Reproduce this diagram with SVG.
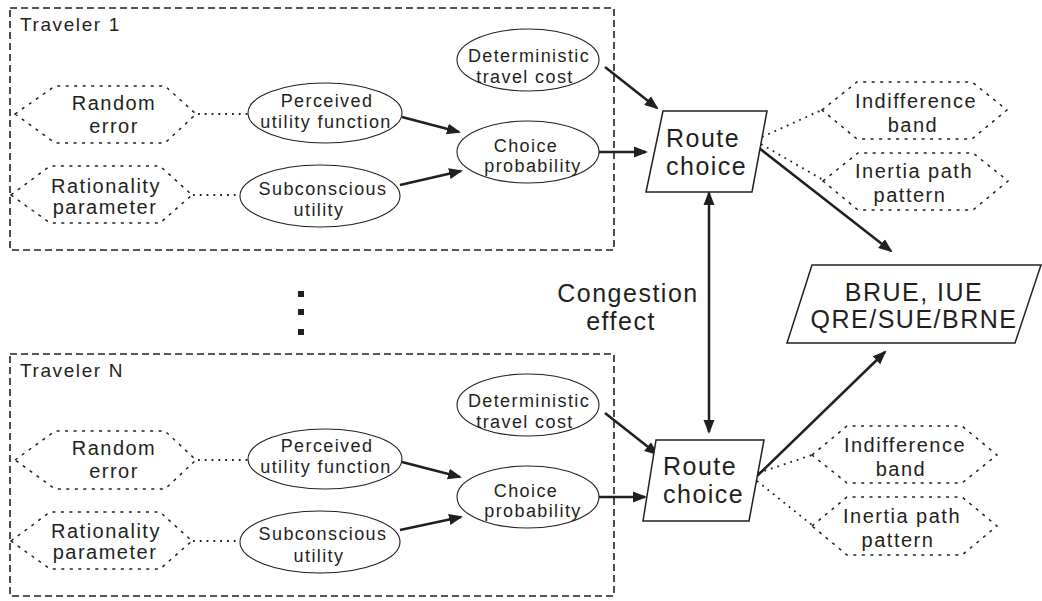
<svg xmlns="http://www.w3.org/2000/svg" width="1042" height="601" viewBox="0 0 1042 601">
<style>
text{font-family:"Liberation Sans",Arial,Helvetica,sans-serif;fill:#231f20;}
.t18{font-size:18px;letter-spacing:1.4px;text-anchor:middle;}
.t20{font-size:20px;letter-spacing:1.5px;text-anchor:middle;}
.t25{font-size:25px;letter-spacing:1.5px;}
.title{font-size:19px;letter-spacing:1.6px;}
.box{fill:none;stroke:#231f20;stroke-width:1.6;stroke-dasharray:7,4;}
.ell{fill:#fff;stroke:#231f20;stroke-width:1.1;}
.hex{fill:none;stroke:#231f20;stroke-width:1.5;stroke-dasharray:3,5.5;}
.para{fill:#fff;stroke:#231f20;stroke-width:1.5;}
.arr{fill:none;stroke:#231f20;stroke-width:2.5;marker-end:url(#ah);}
.dot{fill:none;stroke:#231f20;stroke-width:1.8;stroke-dasharray:1.8,5;}
</style>
<defs>
<marker id="ah" markerUnits="userSpaceOnUse" markerWidth="14" markerHeight="12" viewBox="0 0 14 12" refX="12" refY="6" orient="auto-start-reverse">
<path d="M0,0.5 L14,6 L0,11.5 z" fill="#231f20"/>
</marker>
</defs>
<rect width="1042" height="601" fill="#fff"/>

<g id="traveler1">
<rect class="box" x="10" y="8" width="604" height="242"/>
<text class="title" x="20" y="31">Traveler 1</text>
</g>
<g id="travelerN">
<rect class="box" x="10" y="354" width="604" height="242"/>
<text class="title" x="20" y="377">Traveler N</text>
</g>

<g id="connectors">
<line class="dot" x1="198" y1="114" x2="248" y2="114"/>
<line class="dot" x1="193" y1="195" x2="240" y2="195"/>
<line class="dot" x1="762" y1="137" x2="822" y2="110"/>
<line class="dot" x1="761" y1="144" x2="823" y2="180"/>
<line class="dot" x1="198" y1="460" x2="248" y2="460"/>
<line class="dot" x1="193" y1="541" x2="240" y2="541"/>
<line class="dot" x1="758" y1="473" x2="812" y2="455"/>
<line class="dot" x1="757" y1="481" x2="812" y2="525"/>
<line class="arr" x1="402" y1="117" x2="459" y2="132"/>
<line class="arr" x1="400" y1="185" x2="461" y2="171"/>
<line class="arr" x1="605" y1="67" x2="657" y2="108"/>
<line class="arr" x1="599" y1="152" x2="646" y2="152"/>
<line class="arr" x1="759" y1="148" x2="891" y2="251"/>
<line class="arr" x1="402" y1="462" x2="460" y2="477"/>
<line class="arr" x1="400" y1="530" x2="461" y2="517"/>
<line class="arr" x1="605" y1="413" x2="657" y2="454"/>
<line class="arr" x1="599" y1="497" x2="645" y2="497"/>
<line class="arr" x1="757" y1="476" x2="885" y2="352"/>
<line class="arr" x1="709" y1="193" x2="709" y2="432" style="marker-start:url(#ah)"/>
</g>

<g id="random1">
<polygon class="hex" points="15,114 55,86 165,86 196,114 165,143 55,143"/>
<text class="t20" x="114" y="110">Random</text>
<text class="t20" x="114" y="133">error</text>
</g>
<g id="rationality1">
<polygon class="hex" points="11,195 50,166 160,166 192,195 160,223 50,223"/>
<text class="t20" x="106" y="193">Rationality</text>
<text class="t20" x="105" y="214">parameter</text>
</g>
<g id="perceived1">
<ellipse class="ell" cx="325" cy="113" rx="77" ry="30"/>
<text class="t18" x="327" y="107">Perceived</text>
<text class="t18" x="326" y="128">utility function</text>
</g>
<g id="subconscious1">
<ellipse class="ell" cx="320" cy="196" rx="80" ry="31"/>
<text class="t18" x="323" y="195">Subconscious</text>
<text class="t18" x="319" y="216">utility</text>
</g>
<g id="deterministic1">
<ellipse class="ell" cx="528" cy="60" rx="71" ry="31"/>
<text class="t18" x="529" y="62">Deterministic</text>
<text class="t18" x="525" y="83">travel cost</text>
</g>
<g id="choice1">
<ellipse class="ell" cx="528" cy="152" rx="71" ry="31"/>
<text class="t18" x="526" y="152">Choice</text>
<text class="t18" x="533" y="172">probability</text>
</g>
<g id="route1">
<polygon class="para" points="663,111 767,111 752,192 646,192"/>
<text class="t25" x="666" y="147">Route</text>
<text class="t25" x="666" y="175">choice</text>
</g>
<g id="indifference1">
<polygon class="hex" points="822,110 857,82 972,82 1007,110 972,139 857,139"/>
<text class="t20" x="916" y="108">Indifference</text>
<text class="t20" x="913" y="132">band</text>
</g>
<g id="inertia1">
<polygon class="hex" points="823,181 858,153 973,153 1008,181 973,210 858,210"/>
<text class="t20" x="914" y="178">Inertia path</text>
<text class="t20" x="910" y="202">pattern</text>
</g>

<g id="random2">
<polygon class="hex" points="15,460 55,431 165,431 196,460 165,489 55,489"/>
<text class="t20" x="114" y="455">Random</text>
<text class="t20" x="114" y="478">error</text>
</g>
<g id="rationality2">
<polygon class="hex" points="11,541 50,512 160,512 192,541 160,569 50,569"/>
<text class="t20" x="106" y="538">Rationality</text>
<text class="t20" x="105" y="559">parameter</text>
</g>
<g id="perceived2">
<ellipse class="ell" cx="325" cy="459" rx="77" ry="30"/>
<text class="t18" x="327" y="452">Perceived</text>
<text class="t18" x="326" y="473">utility function</text>
</g>
<g id="subconscious2">
<ellipse class="ell" cx="320" cy="542" rx="80" ry="31"/>
<text class="t18" x="323" y="540">Subconscious</text>
<text class="t18" x="319" y="562">utility</text>
</g>
<g id="deterministic2">
<ellipse class="ell" cx="528" cy="405" rx="71" ry="31"/>
<text class="t18" x="529" y="407">Deterministic</text>
<text class="t18" x="525" y="428">travel cost</text>
</g>
<g id="choice2">
<ellipse class="ell" cx="528" cy="497" rx="71" ry="31"/>
<text class="t18" x="526" y="497">Choice</text>
<text class="t18" x="533" y="517">probability</text>
</g>
<g id="route2">
<polygon class="para" points="656,440 764,440 749,521 643,521"/>
<text class="t25" x="663" y="475">Route</text>
<text class="t25" x="663" y="503">choice</text>
</g>
<g id="indifference2">
<polygon class="hex" points="812,455 847,426 962,426 997,455 962,483 847,483"/>
<text class="t20" x="905" y="452">Indifference</text>
<text class="t20" x="901" y="476">band</text>
</g>
<g id="inertia2">
<polygon class="hex" points="812,526 847,497 962,497 997,526 962,555 847,555"/>
<text class="t20" x="902" y="523">Inertia path</text>
<text class="t20" x="898" y="547">pattern</text>
</g>

<g id="equilibrium">
<polygon class="para" points="812,265 1041,265 1015,343 787,343"/>
<text class="t25" x="914" y="301" text-anchor="middle">BRUE, IUE</text>
<text class="t25" x="914" y="328" text-anchor="middle">QRE/SUE/BRNE</text>
</g>

<g id="congestion">
<text class="t25" x="628" y="302" text-anchor="middle">Congestion</text>
<text class="t25" x="621" y="330" text-anchor="middle">effect</text>
</g>

<g id="ellipsis">
<rect x="298" y="291" width="6" height="6" fill="#231f20"/>
<rect x="298" y="309" width="6" height="6" fill="#231f20"/>
<rect x="298" y="329" width="6" height="6" fill="#231f20"/>
</g>
</svg>
